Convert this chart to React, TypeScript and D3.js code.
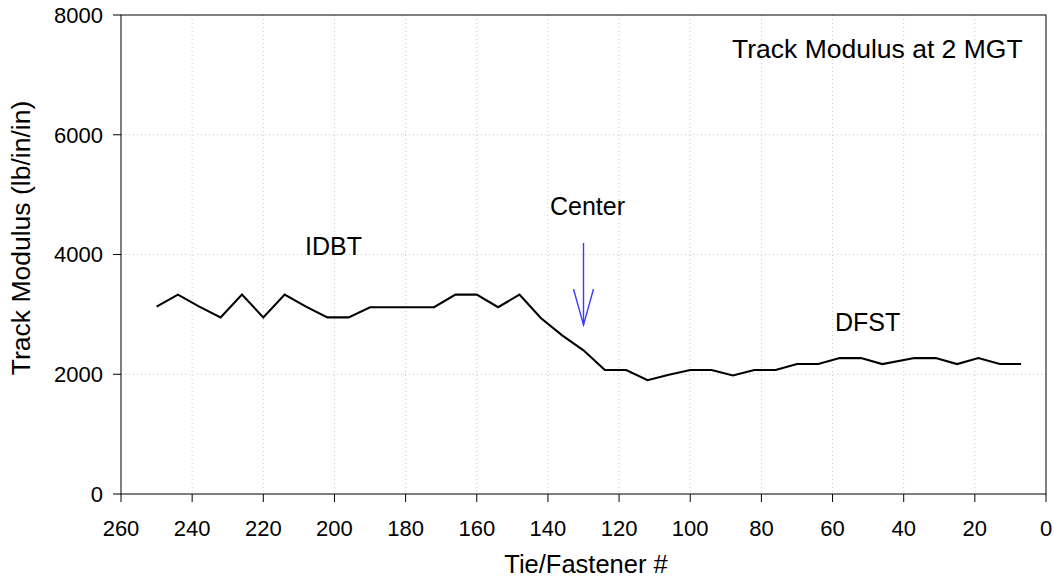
import React from "react";
import * as d3 from "d3";

// Tie/fastener numbers along the test section and the measured track modulus (lb/in/in)
const tieNumbers = [
  250, 244, 238, 232, 226, 220, 214, 208, 202, 196, 190, 184, 178, 172, 166, 160, 154, 148, 142, 136,
  130, 124, 118, 112, 106, 100, 94, 88, 82, 76, 70, 64, 58, 52, 46, 37, 31, 25, 19, 13, 7,
];
const modulusValues = [
  3130, 3330, 3130, 2950, 3330, 2950, 3330, 3130, 2950, 2950, 3120, 3120, 3120, 3120, 3330, 3330, 3120, 3330, 2940, 2650,
  2400, 2070, 2070, 1900, 1990, 2070, 2070, 1980, 2070, 2070, 2170, 2170, 2270, 2270, 2170, 2270, 2270, 2170, 2270, 2170, 2170,
];
const xTicks = [260, 240, 220, 200, 180, 160, 140, 120, 100, 80, 60, 40, 20, 0];
const yTicks = [0, 2000, 4000, 6000, 8000];
const centerTie = 130;

const W = 1054;
const H = 577;
const plot = { left: 121, right: 1046, top: 15, bottom: 494 };
const FONT = "Liberation Sans, Arial, Helvetica, sans-serif";

export default function App() {
  const x = d3.scaleLinear().domain([260, 0]).range([plot.left, plot.right]);
  const y = d3.scaleLinear().domain([0, 8000]).range([plot.bottom, plot.top]);

  const points: [number, number][] = tieNumbers.map((t, i) => [t, modulusValues[i]]);
  const line = d3
    .line<[number, number]>()
    .x((d) => x(d[0]))
    .y((d) => y(d[1]));

  const cx = x(centerTie);
  const arrowTop = 243;
  const arrowTip = 325;

  return (
    <svg
      width={W}
      height={H}
      style={{ position: "absolute", left: 0, top: 0, background: "#fff" }}
      fontFamily={FONT}
    >
      <rect x={0} y={0} width={W} height={H} fill="#fff" />

      {/* dotted grid */}
      <g stroke="#c8c8c8" strokeWidth={1} strokeDasharray="1,3">
        {xTicks
          .filter((t) => t !== 260 && t !== 0)
          .map((t) => (
            <line key={"gx" + t} x1={x(t)} x2={x(t)} y1={plot.top} y2={plot.bottom} />
          ))}
        {yTicks
          .filter((t) => t !== 0 && t !== 8000)
          .map((t) => (
            <line key={"gy" + t} x1={plot.left} x2={plot.right} y1={y(t)} y2={y(t)} />
          ))}
      </g>

      {/* plot frame */}
      <rect
        x={plot.left}
        y={plot.top}
        width={plot.right - plot.left}
        height={plot.bottom - plot.top}
        fill="none"
        stroke="#000"
        strokeWidth={1}
      />

      {/* y axis ticks and labels */}
      <g fontSize={22} fill="#000">
        {yTicks.map((t) => (
          <g key={"yt" + t}>
            <line x1={plot.left - 8} x2={plot.left} y1={y(t)} y2={y(t)} stroke="#000" />
            <text x={103} y={y(t)} dy="0.36em" textAnchor="end">
              {t}
            </text>
          </g>
        ))}
      </g>

      {/* x axis ticks and labels */}
      <g fontSize={22} fill="#000">
        {xTicks.map((t) => (
          <g key={"xt" + t}>
            <line x1={x(t)} x2={x(t)} y1={plot.bottom} y2={plot.bottom + 8} stroke="#000" />
            <text x={x(t)} y={536} textAnchor="middle">
              {t}
            </text>
          </g>
        ))}
      </g>

      {/* axis titles */}
      <text x={586} y={573} textAnchor="middle" fontSize={25.5}>
        Tie/Fastener #
      </text>
      <text
        transform={`translate(30, 238) rotate(-90)`}
        textAnchor="middle"
        fontSize={26.5}
      >
        Track Modulus (lb/in/in)
      </text>

      {/* data series */}
      <path d={line(points) ?? ""} fill="none" stroke="#000" strokeWidth={2.1} strokeLinejoin="miter" />

      {/* center marker */}
      <g stroke="#3c3cff" strokeWidth={1.4} fill="none">
        <line x1={cx} x2={cx} y1={arrowTop} y2={arrowTip} />
        <polyline points={`${cx - 10},${arrowTip - 36} ${cx},${arrowTip} ${cx + 10},${arrowTip - 36}`} />
      </g>

      {/* annotations */}
      <g fill="#000">
        <text x={732} y={58} fontSize={26.5}>Track Modulus at 2 MGT</text>
        <text x={305} y={255} fontSize={25}>IDBT</text>
        <text x={550} y={215} fontSize={25}>Center</text>
        <text x={835} y={331} fontSize={25}>DFST</text>
      </g>
    </svg>
  );
}
